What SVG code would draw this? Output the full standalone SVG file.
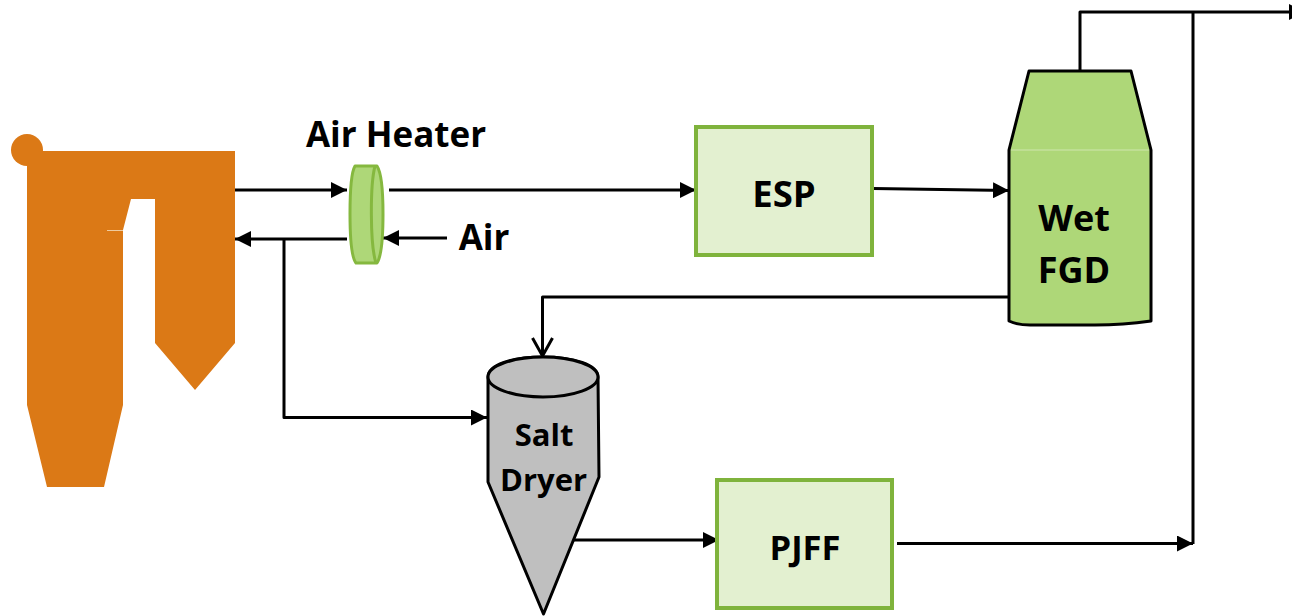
<svg xmlns="http://www.w3.org/2000/svg" width="1292" height="616" viewBox="0 0 1292 616">
<style>
text{font-family:"Open Sans","Noto Sans","Liberation Sans",sans-serif;font-weight:700;fill:#000;text-anchor:middle}
.c{fill:none;stroke:#000;stroke-width:3;stroke-linejoin:round}
.box{fill:#e3f0d0;stroke:#7fb33c;stroke-width:4}
</style>
<defs>
<marker id="a" markerUnits="userSpaceOnUse" markerWidth="16" markerHeight="16" refX="16" refY="8" orient="auto"><path d="M0 0L16 8L0 16Z" fill="#000"/></marker>
<marker id="o" markerUnits="userSpaceOnUse" markerWidth="24" markerHeight="24" refX="20" refY="12" orient="auto" overflow="visible"><path d="M2 2L20 12L2 22" fill="none" stroke="#000" stroke-width="3"/></marker>
</defs>
<g id="connectors">
<path class="c" d="M235 190H347" marker-end="url(#a)"/>
<path class="c" d="M389 190H696" marker-end="url(#a)"/>
<path class="c" d="M347 239H235" marker-end="url(#a)"/>
<path class="c" d="M447 238H383" marker-end="url(#a)"/>
<path class="c" d="M873 188.500L1009 190.500" marker-end="url(#a)"/>
<path class="c" d="M1009 297H542.500V356" marker-end="url(#o)"/>
<path class="c" d="M284 239V417.500H487" marker-end="url(#a)"/>
<path class="c" d="M572 540H719" marker-end="url(#a)"/>
<path class="c" d="M897 543.500H1193" marker-end="url(#a)"/>
<path class="c" d="M1193 544V12"/>
<path class="c" d="M1080 71V12H1305" marker-end="url(#a)"/>
</g>
<g id="boiler">
<circle cx="27" cy="150" r="16" fill="#db7916"/>
<path d="M27 151H235V343L195 390L155 343V199H131L123 230V405L104 487H47L27 405Z" fill="#db7916"/>
<path d="M107 230.500H123" stroke="#eecb9f" stroke-width="1"/>
</g>
<g id="air-heater">
<path d="M355 166H377C381 172 383 190 383 214C383 238 381 257 377 263H356C352 258 350 238 350 214C350 190 352 171 355 166Z" fill="#aed778" stroke="#85b83f" stroke-width="3" stroke-linejoin="round"/>
<path d="M375 166C370 185 370 245 376 263" fill="none" stroke="#85b83f" stroke-width="3"/>
<text x="396" y="147" font-size="35">Air Heater</text>
</g>
<text x="484" y="250" font-size="35">Air</text>
<g id="esp">
<rect class="box" x="696" y="127" width="176" height="128"/>
<text x="784" y="207" font-size="36.500">ESP</text>
</g>
<g id="wet-fgd">
<path d="M1029 71H1131L1151 150V321C1130 324 1115 325 1095 325H1030C1022 325 1015 324 1009 321V150Z" fill="#aed778" stroke="#000" stroke-width="3" stroke-linejoin="round"/>
<path d="M1011 150H1149" stroke="#cfe6ae" stroke-width="1"/>
<text x="1074" y="231" font-size="36">Wet</text>
<text x="1074" y="283" font-size="36">FGD</text>
</g>
<g id="salt-dryer">
<path d="M488 377C488 365 512 357 543 357C574 357 598 365 598 377L599 477L543.500 614L488 482Z" fill="#bfbfbf" stroke="#000" stroke-width="3" stroke-linejoin="round"/>
<ellipse cx="543" cy="377" rx="55" ry="20" fill="#bfbfbf" stroke="#000" stroke-width="3"/>
<text x="544" y="446" font-size="31">Salt</text>
<text x="543.500" y="491" font-size="31">Dryer</text>
</g>
<g id="pjff">
<rect class="box" x="717" y="480" width="175" height="128"/>
<text x="805" y="560" font-size="34.500">PJFF</text>
</g>
</svg>
